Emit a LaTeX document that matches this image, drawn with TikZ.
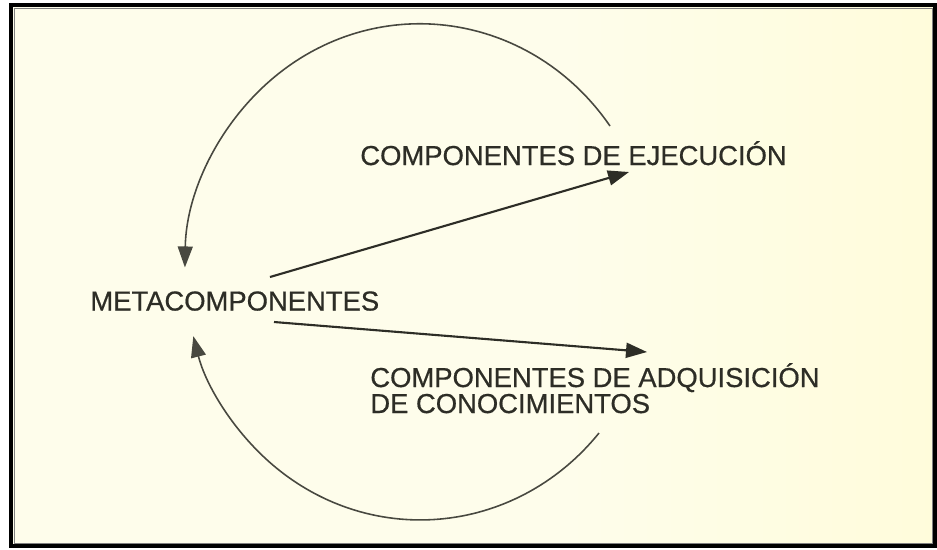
\documentclass[tikz,border=0pt]{standalone}
\usepackage{fontspec}
\setmainfont{Liberation Sans}
\newfontfamily\lblfont{Liberation Sans}[FakeBold=0.6]
\usetikzlibrary{arrows.meta}
\definecolor{bgA}{RGB}{254,253,235}
\definecolor{bgB}{RGB}{255,252,215}
\definecolor{bgC}{RGB}{255,249,192}
\definecolor{ink}{RGB}{45,45,38}
\definecolor{arcink}{RGB}{72,72,64}
\pgfdeclarehorizontalshading{paper}{100bp}{color(0bp)=(bgA); color(55bp)=(bgA); color(80bp)=(bgB); color(100bp)=(bgC)}
\begin{document}
\begin{tikzpicture}[x=0.02cm,y=-0.02cm,
  lbl/.style={font=\lblfont\fontsize{15.6}{14.8}\selectfont, text=ink, inner sep=0pt, anchor=base west},
  link/.style={draw=ink, line width=1.2pt, -{Triangle[length=0.42cm,width=0.3cm]}},
  loopline/.style={draw=arcink, line width=0.9pt, -{Triangle[length=0.42cm,width=0.3cm]}},
  framebox/.style={draw=black, line width=2pt}]
\useasboundingbox (0,0) rectangle (937,549);
\fill[white] (0,0) rectangle (937,549);
\shade[shading=paper] (11,5) rectangle (936,547);
\draw[framebox] (11,5) rectangle (935,546);
\draw[gray, line width=0.5pt] (14,8) rectangle (932,543);

\node[lbl] (meta) at (90,310.5) {METACOMPONENTES};
\node[lbl] (ejec) at (360,165) {COMPONENTES DE EJECUCIÓN};
\node[lbl, align=left] (adq) at (370,413) {COMPONENTES DE ADQUISICIÓN\\DE CONOCIMIENTOS};

\coordinate (m1) at (270,277);
\coordinate (e1) at (629,172);
\coordinate (m2) at (274,322);
\coordinate (a1) at (647,352);
\draw[link] (m1) -- (e1);
\draw[link] (m2) -- (a1);

\coordinate (t0) at (610,126);
\coordinate (b0) at (599,433);
\draw[loopline] (t0) arc[start angle=-36, end angle=-179, x radius=235, y radius=248];
\draw[loopline] (b0) arc[start angle=40.5, end angle=165, x radius=235, y radius=248];
\end{tikzpicture}
\end{document}
